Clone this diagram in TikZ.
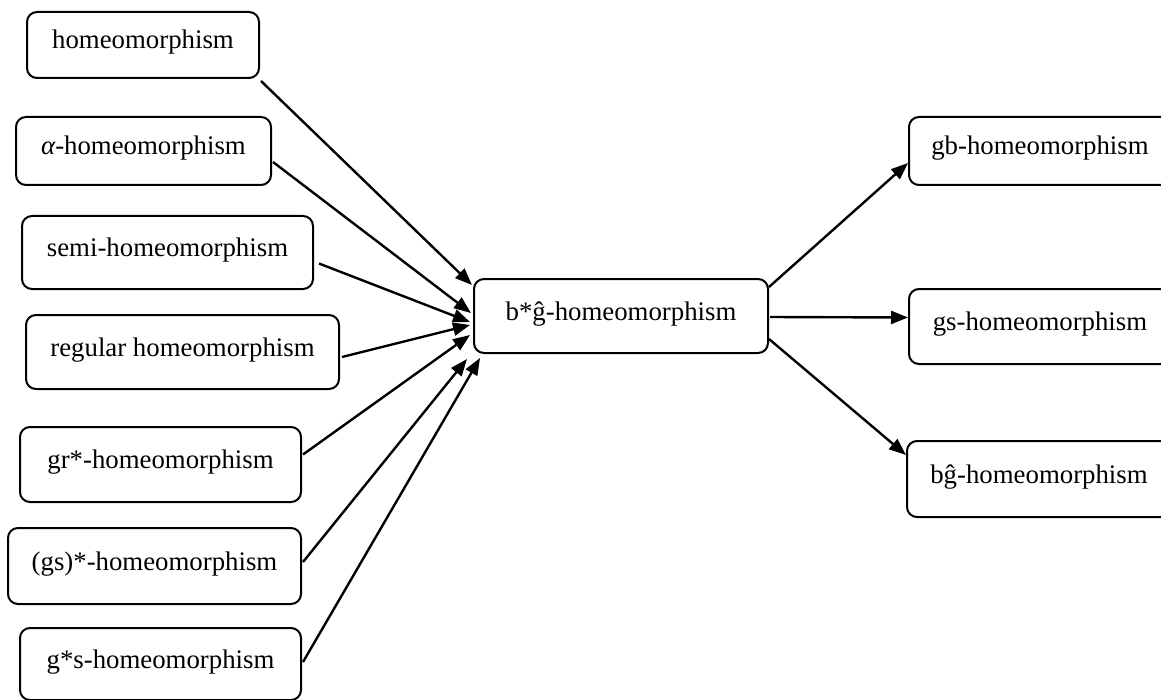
\documentclass[tikz,border=0pt]{standalone}
\usepackage{fontspec}
\setmainfont{Liberation Serif}
\usetikzlibrary{arrows.meta}
\begin{document}
\begin{tikzpicture}[x=0.5pt,y=-0.5pt,
  hbox/.style={draw, line width=1pt, rounded corners=5pt, inner sep=0pt,
    font=\fontsize{13.4pt}{16pt}\selectfont, text height=9pt, text depth=5pt},
  conn/.style={line width=1.2pt, -{Triangle[length=8.5pt,width=6.5pt]}}]
\useasboundingbox (0,0) rectangle (1161,700);
% left boxes
\node[hbox, minimum width=116pt, minimum height=33pt] (n1) at (143,45) {homeomorphism\hspace{4pt}};
\node[hbox, minimum width=127.5pt, minimum height=34pt] (n2) at (143.5,151) {{\itshape α}-homeomorphism};
\node[hbox, minimum width=145.5pt, minimum height=36.5pt] (n3) at (167.5,252.5) {semi-homeomorphism};
\node[hbox, minimum width=156.5pt, minimum height=37pt] (n4) at (182.5,352) {regular homeomorphism};
\node[hbox, minimum width=140.5pt, minimum height=37.5pt] (n5) at (160.5,464.5) {gr*-homeomorphism};
\node[hbox, minimum width=146.5pt, minimum height=38pt] (n6) at (154.5,566) {(gs)*-homeomorphism};
\node[hbox, minimum width=140.5pt, minimum height=36pt] (n7) at (160.5,664) {g*s-homeomorphism};
% centre
\node[hbox, minimum width=147pt, minimum height=37pt] (c) at (621,316) {b*ĝ-homeomorphism};
% right boxes
\node[hbox, minimum width=131pt, minimum height=34pt] (r1) at (1040,151) {gb-homeomorphism};
\node[hbox, minimum width=131pt, minimum height=37.5pt] (r2) at (1040,326.5) {gs-homeomorphism};
\node[hbox, minimum width=132pt, minimum height=38pt] (r3) at (1039,479) {bĝ-homeomorphism};
% connectors in
\draw[conn] ([shift={(1,2)}]n1.south east) -- ([shift={(-1,7)}]c.north west);
\draw[conn] ([shift={(1,11)}]n2.east) -- ([shift={(-2,-3)}]c.west);
\draw[conn] ([shift={(5,11)}]n3.east) -- ([shift={(-3,6)}]c.west);
\draw[conn] ([shift={(2,5)}]n4.east) -- ([shift={(-3,9)}]c.west);
\draw[conn] ([shift={(1,-10)}]n5.east) -- ([shift={(-3,19)}]c.west);
\draw[conn] ([shift={(1,-4)}]n6.east) -- ([shift={(-6,5)}]c.south west);
\draw[conn] ([shift={(1,-2)}]n7.east) -- ([shift={(7,4)}]c.south west);
% connectors out
\draw[conn] ([shift={(0,-29)}]c.east) -- ([shift={(0,12)}]r1.west);
\draw[conn] ([shift={(1,1)}]c.east) -- ([shift={(0,-9)}]r2.west);
\draw[conn] ([shift={(0,23)}]c.east) -- ([shift={(0,-24)}]r3.west);
\end{tikzpicture}
\end{document}
